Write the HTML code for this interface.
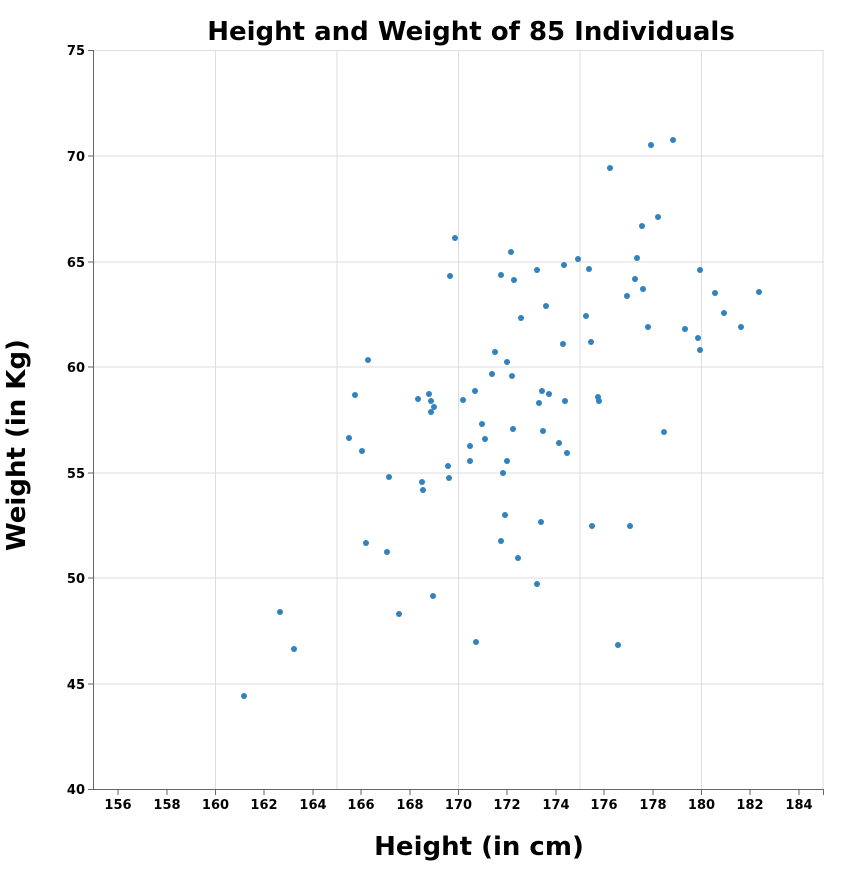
<!DOCTYPE html>
<html><head><style>body{margin:0;background:#fff}</style></head><body>
<svg width="849" height="865" xmlns="http://www.w3.org/2000/svg" font-family="'DejaVu Sans','Liberation Sans',sans-serif">
<rect width="849" height="865" fill="#fff"/>
<g stroke="#ddd" stroke-width="1">
<line x1="215.5" y1="50" x2="215.5" y2="789"/><line x1="337" y1="50" x2="337" y2="789"/><line x1="458.5" y1="50" x2="458.5" y2="789"/><line x1="580" y1="50" x2="580" y2="789"/><line x1="701.5" y1="50" x2="701.5" y2="789"/><line x1="823" y1="50" x2="823" y2="789"/>
<line x1="94" y1="50.5" x2="824" y2="50.5"/><line x1="94" y1="156" x2="824" y2="156"/><line x1="94" y1="262" x2="824" y2="262"/><line x1="94" y1="367" x2="824" y2="367"/><line x1="94" y1="473" x2="824" y2="473"/><line x1="94" y1="578" x2="824" y2="578"/><line x1="94" y1="684" x2="824" y2="684"/>
</g>
<g stroke="#666" stroke-width="1">
<line x1="93.5" y1="50" x2="93.5" y2="790"/><line x1="93.5" y1="789.5" x2="824" y2="789.5"/>
<line x1="118" y1="790" x2="118" y2="795"/><line x1="167" y1="790" x2="167" y2="795"/><line x1="215.5" y1="790" x2="215.5" y2="795"/><line x1="264" y1="790" x2="264" y2="795"/><line x1="313" y1="790" x2="313" y2="795"/><line x1="361" y1="790" x2="361" y2="795"/><line x1="410" y1="790" x2="410" y2="795"/><line x1="458.5" y1="790" x2="458.5" y2="795"/><line x1="507" y1="790" x2="507" y2="795"/><line x1="556" y1="790" x2="556" y2="795"/><line x1="604" y1="790" x2="604" y2="795"/><line x1="653" y1="790" x2="653" y2="795"/><line x1="701.5" y1="790" x2="701.5" y2="795"/><line x1="750" y1="790" x2="750" y2="795"/><line x1="799" y1="790" x2="799" y2="795"/><line x1="823.5" y1="790" x2="823.5" y2="795"/>
<line x1="88" y1="50.5" x2="93" y2="50.5"/><line x1="88" y1="156" x2="93" y2="156"/><line x1="88" y1="262" x2="93" y2="262"/><line x1="88" y1="367" x2="93" y2="367"/><line x1="88" y1="473" x2="93" y2="473"/><line x1="88" y1="578" x2="93" y2="578"/><line x1="88" y1="684" x2="93" y2="684"/><line x1="88" y1="789.5" x2="93" y2="789.5"/>
</g>
<g font-size="13" font-weight="bold" fill="#000" text-anchor="middle">
<text x="118" y="809">156</text><text x="167" y="809">158</text><text x="215.5" y="809">160</text><text x="264" y="809">162</text><text x="313" y="809">164</text><text x="361" y="809">166</text><text x="410" y="809">168</text><text x="458.5" y="809">170</text><text x="507" y="809">172</text><text x="556" y="809">174</text><text x="604" y="809">176</text><text x="653" y="809">178</text><text x="701.5" y="809">180</text><text x="750" y="809">182</text><text x="799" y="809">184</text>
</g>
<g font-size="13" font-weight="bold" fill="#000" text-anchor="end">
<text x="85" y="55">75</text><text x="85" y="161">70</text><text x="85" y="267">65</text><text x="85" y="372">60</text><text x="85" y="478">55</text><text x="85" y="583">50</text><text x="85" y="689">45</text><text x="85" y="794">40</text>
</g>
<text x="471" y="40" font-size="26" font-weight="bold" text-anchor="middle">Height and Weight of 85 Individuals</text>
<text x="479" y="855" font-size="26" font-weight="bold" text-anchor="middle">Height (in cm)</text>
<text transform="translate(25,445) rotate(-90)" font-size="26" font-weight="bold" text-anchor="middle">Weight (in Kg)</text>
<g fill="#3182bd">
<circle cx="244" cy="696" r="3"/><circle cx="280" cy="612" r="3"/><circle cx="294" cy="649" r="3"/><circle cx="349" cy="438" r="3"/><circle cx="355" cy="395" r="3"/><circle cx="362" cy="451" r="3"/><circle cx="368" cy="360" r="3"/><circle cx="366" cy="543" r="3"/><circle cx="387" cy="552" r="3"/><circle cx="389" cy="477" r="3"/><circle cx="399" cy="614" r="3"/><circle cx="418" cy="399" r="3"/><circle cx="422" cy="482" r="3"/><circle cx="423" cy="490" r="3"/><circle cx="429" cy="394" r="3"/><circle cx="431" cy="401" r="3"/><circle cx="431" cy="412" r="3"/><circle cx="434" cy="407" r="3"/><circle cx="433" cy="596" r="3"/><circle cx="448" cy="466" r="3"/><circle cx="449" cy="478" r="3"/><circle cx="450" cy="276" r="3"/><circle cx="455" cy="238" r="3"/><circle cx="463" cy="400" r="3"/><circle cx="470" cy="446" r="3"/><circle cx="470" cy="461" r="3"/><circle cx="475" cy="391" r="3"/><circle cx="476" cy="642" r="3"/><circle cx="482" cy="424" r="3"/><circle cx="485" cy="439" r="3"/><circle cx="492" cy="374" r="3"/><circle cx="495" cy="352" r="3"/><circle cx="501" cy="275" r="3"/><circle cx="503" cy="473" r="3"/><circle cx="505" cy="515" r="3"/><circle cx="507" cy="461" r="3"/><circle cx="507" cy="362" r="3"/><circle cx="501" cy="541" r="3"/><circle cx="511" cy="252" r="3"/><circle cx="512" cy="376" r="3"/><circle cx="513" cy="429" r="3"/><circle cx="514" cy="280" r="3"/><circle cx="518" cy="558" r="3"/><circle cx="521" cy="318" r="3"/><circle cx="537" cy="270" r="3"/><circle cx="537" cy="584" r="3"/><circle cx="539" cy="403" r="3"/><circle cx="541" cy="522" r="3"/><circle cx="542" cy="391" r="3"/><circle cx="543" cy="431" r="3"/><circle cx="546" cy="306" r="3"/><circle cx="549" cy="394" r="3"/><circle cx="559" cy="443" r="3"/><circle cx="563" cy="344" r="3"/><circle cx="564" cy="265" r="3"/><circle cx="565" cy="401" r="3"/><circle cx="567" cy="453" r="3"/><circle cx="578" cy="259" r="3"/><circle cx="586" cy="316" r="3"/><circle cx="589" cy="269" r="3"/><circle cx="591" cy="342" r="3"/><circle cx="592" cy="526" r="3"/><circle cx="598" cy="397" r="3"/><circle cx="599" cy="401" r="3"/><circle cx="610" cy="168" r="3"/><circle cx="618" cy="645" r="3"/><circle cx="627" cy="296" r="3"/><circle cx="630" cy="526" r="3"/><circle cx="635" cy="279" r="3"/><circle cx="637" cy="258" r="3"/><circle cx="642" cy="226" r="3"/><circle cx="643" cy="289" r="3"/><circle cx="648" cy="327" r="3"/><circle cx="651" cy="145" r="3"/><circle cx="658" cy="217" r="3"/><circle cx="664" cy="432" r="3"/><circle cx="673" cy="140" r="3"/><circle cx="685" cy="329" r="3"/><circle cx="698" cy="338" r="3"/><circle cx="700" cy="270" r="3"/><circle cx="700" cy="350" r="3"/><circle cx="715" cy="293" r="3"/><circle cx="724" cy="313" r="3"/><circle cx="741" cy="327" r="3"/><circle cx="759" cy="292" r="3"/>
</g>
</svg>
</body></html>
